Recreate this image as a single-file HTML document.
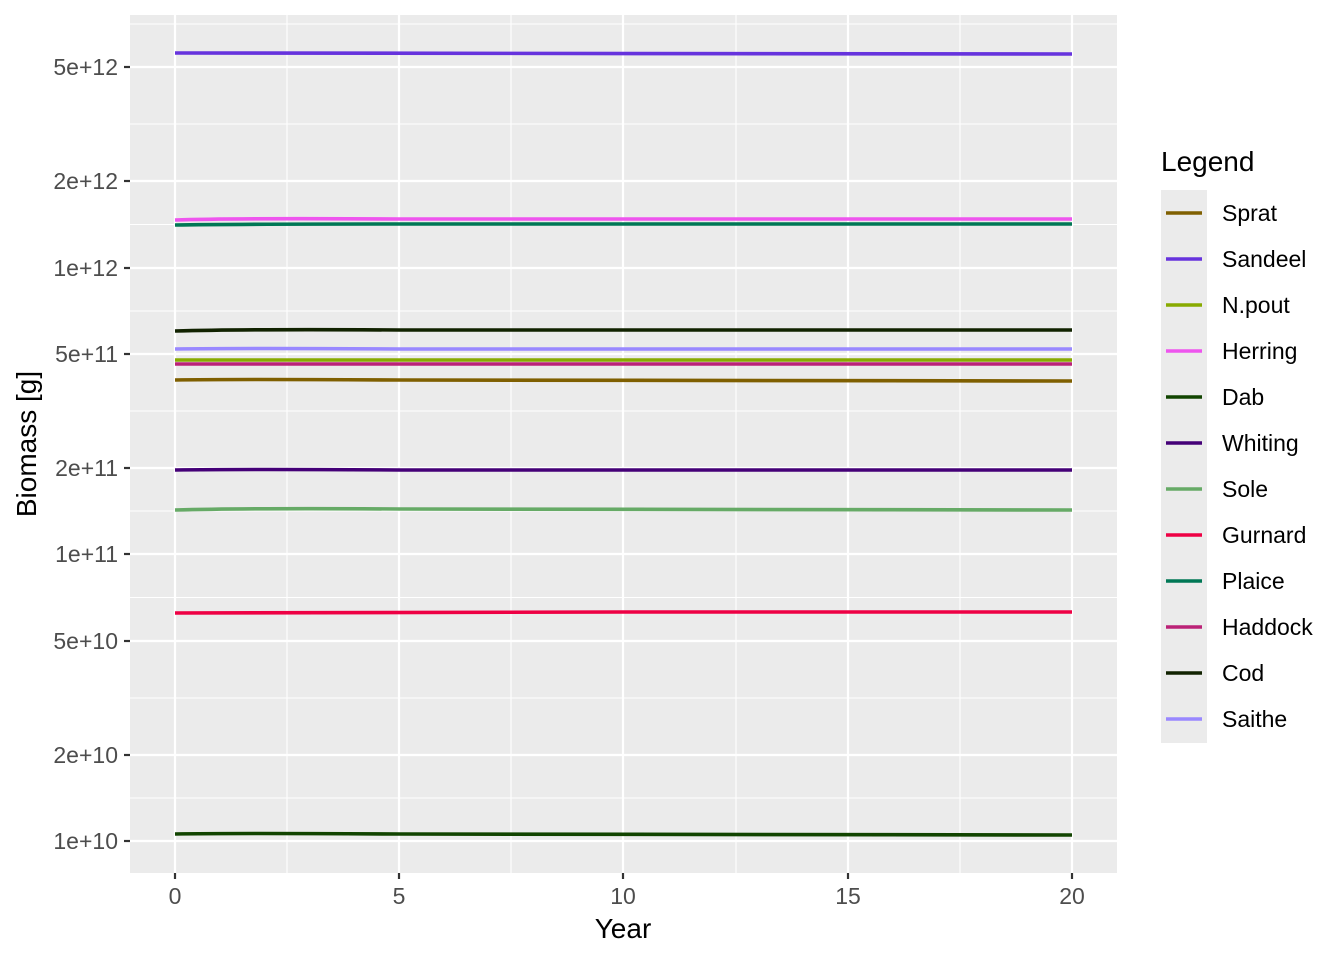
<!DOCTYPE html>
<html><head><meta charset="utf-8"><style>body{margin:0;background:#fff}svg{display:block}text{font-family:"Liberation Sans",sans-serif}</style></head><body>
<svg width="1344" height="960" viewBox="0 0 1344 960" xmlns="http://www.w3.org/2000/svg">
<rect x="130" y="15" width="987" height="858" fill="#ebebeb"/>
<g stroke="#fff" stroke-width="1.1">
<line x1="130" x2="1117" y1="798" y2="798"/><line x1="130" x2="1117" y1="698" y2="698"/><line x1="130" x2="1117" y1="597.5" y2="597.5"/><line x1="130" x2="1117" y1="511" y2="511"/><line x1="130" x2="1117" y1="411" y2="411"/><line x1="130" x2="1117" y1="311" y2="311"/><line x1="130" x2="1117" y1="224.5" y2="224.5"/><line x1="130" x2="1117" y1="124" y2="124"/><line x1="130" x2="1117" y1="24" y2="24"/>
<line y1="15" y2="873" x1="287" x2="287"/><line y1="15" y2="873" x1="511" x2="511"/><line y1="15" y2="873" x1="736" x2="736"/><line y1="15" y2="873" x1="960" x2="960"/>
</g>
<g stroke="#fff" stroke-width="2.2">
<line x1="130" x2="1117" y1="841" y2="841"/><line x1="130" x2="1117" y1="755" y2="755"/><line x1="130" x2="1117" y1="641" y2="641"/><line x1="130" x2="1117" y1="554" y2="554"/><line x1="130" x2="1117" y1="468" y2="468"/><line x1="130" x2="1117" y1="354" y2="354"/><line x1="130" x2="1117" y1="268" y2="268"/><line x1="130" x2="1117" y1="181" y2="181"/><line x1="130" x2="1117" y1="67" y2="67"/>
<line y1="15" y2="873" x1="175" x2="175"/><line y1="15" y2="873" x1="399" x2="399"/><line y1="15" y2="873" x1="623" x2="623"/><line y1="15" y2="873" x1="848" x2="848"/><line y1="15" y2="873" x1="1072" x2="1072"/>
</g>
<g stroke-width="3.6" fill="none">
<path d="M175 53 L1072 54" stroke="#6633dd"/>
<path d="M175 220 Q230 218 400 219 L1072 219" stroke="#ee55ee"/>
<path d="M175 225 Q230 224 400 224 L1072 224" stroke="#007755"/>
<path d="M175 331 Q250 329 400 330 L1072 330" stroke="#112200"/>
<path d="M175 349 Q250 348 400 349 L1072 349" stroke="#9988ff"/>
<path d="M175 360 L1072 360" stroke="#88aa00"/>
<path d="M175 364 L1072 364" stroke="#bb2277"/>
<path d="M175 380 Q230 379 400 380 L1072 381" stroke="#7f5f00"/>
<path d="M175 470 Q250 469 400 470 L1072 470" stroke="#440077"/>
<path d="M175 510 Q250 508 400 509 L1072 510" stroke="#66aa66"/>
<path d="M175 613 Q400 612 623 612 L1072 612" stroke="#ee0044"/>
<path d="M175 834 Q230 833 400 834 L1072 835" stroke="#114400"/>
</g>
<g stroke="#333" stroke-width="2.2">
<line x1="124" x2="130" y1="841" y2="841"/><line x1="124" x2="130" y1="755" y2="755"/><line x1="124" x2="130" y1="641" y2="641"/><line x1="124" x2="130" y1="554" y2="554"/><line x1="124" x2="130" y1="468" y2="468"/><line x1="124" x2="130" y1="354" y2="354"/><line x1="124" x2="130" y1="268" y2="268"/><line x1="124" x2="130" y1="181" y2="181"/><line x1="124" x2="130" y1="67" y2="67"/>
<line y1="873" y2="879" x1="175" x2="175"/><line y1="873" y2="879" x1="399" x2="399"/><line y1="873" y2="879" x1="623" x2="623"/><line y1="873" y2="879" x1="848" x2="848"/><line y1="873" y2="879" x1="1072" x2="1072"/>
</g>
<g font-size="23" fill="#4d4d4d" text-anchor="end">
<text x="118" y="849">1e+10</text><text x="118" y="763">2e+10</text><text x="118" y="649">5e+10</text><text x="118" y="562">1e+11</text><text x="118" y="476">2e+11</text><text x="118" y="362">5e+11</text><text x="118" y="276">1e+12</text><text x="118" y="189">2e+12</text><text x="118" y="75">5e+12</text>
</g>
<g font-size="23" fill="#4d4d4d" text-anchor="middle">
<text x="175" y="904">0</text><text x="399" y="904">5</text><text x="623" y="904">10</text><text x="848" y="904">15</text><text x="1072" y="904">20</text>
</g>
<text x="623" y="938" font-size="28" text-anchor="middle">Year</text>
<text transform="translate(36 444) rotate(-90)" font-size="28" text-anchor="middle">Biomass [g]</text>
<text x="1161" y="171" font-size="28">Legend</text>
<rect x="1161" y="190" width="46" height="553" fill="#ebebeb"/>
<g stroke-width="3.6">
<line x1="1166" x2="1202" y1="213" y2="213" stroke="#7f5f00"/>
<line x1="1166" x2="1202" y1="259" y2="259" stroke="#6633dd"/>
<line x1="1166" x2="1202" y1="305" y2="305" stroke="#88aa00"/>
<line x1="1166" x2="1202" y1="351" y2="351" stroke="#ee55ee"/>
<line x1="1166" x2="1202" y1="397" y2="397" stroke="#114400"/>
<line x1="1166" x2="1202" y1="443" y2="443" stroke="#440077"/>
<line x1="1166" x2="1202" y1="489" y2="489" stroke="#66aa66"/>
<line x1="1166" x2="1202" y1="535" y2="535" stroke="#ee0044"/>
<line x1="1166" x2="1202" y1="581" y2="581" stroke="#007755"/>
<line x1="1166" x2="1202" y1="627" y2="627" stroke="#bb2277"/>
<line x1="1166" x2="1202" y1="673" y2="673" stroke="#112200"/>
<line x1="1166" x2="1202" y1="719" y2="719" stroke="#9988ff"/>
</g>
<g font-size="23">
<text x="1222" y="221">Sprat</text><text x="1222" y="267">Sandeel</text><text x="1222" y="313">N.pout</text><text x="1222" y="359">Herring</text><text x="1222" y="405">Dab</text><text x="1222" y="451">Whiting</text><text x="1222" y="497">Sole</text><text x="1222" y="543">Gurnard</text><text x="1222" y="589">Plaice</text><text x="1222" y="635">Haddock</text><text x="1222" y="681">Cod</text><text x="1222" y="727">Saithe</text>
</g>
</svg>
</body></html>
